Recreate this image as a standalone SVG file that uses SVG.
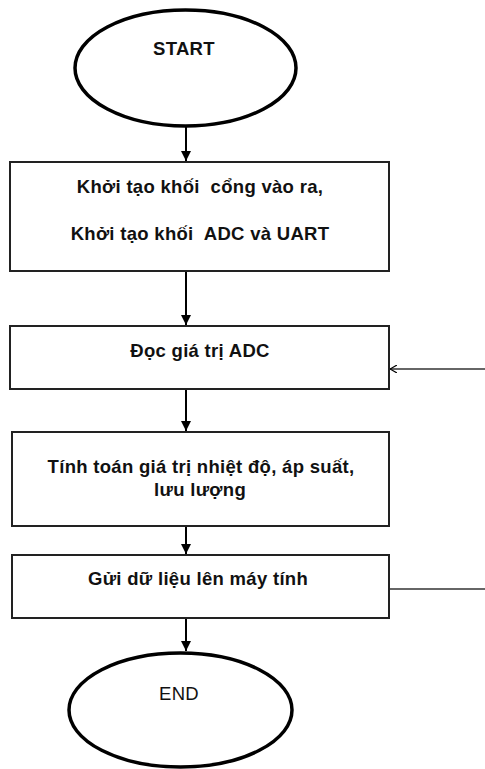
<svg xmlns="http://www.w3.org/2000/svg" width="485" height="769" viewBox="0 0 485 769">
<style>
.term{fill:#fff;stroke:#000;stroke-width:3.5}
.box{fill:#fff;stroke:#222;stroke-width:2}
.t{font-family:"Liberation Sans",Arial,sans-serif;font-weight:bold;font-size:18.5px;fill:#111;text-anchor:middle;white-space:pre;letter-spacing:0.3px}
.flow{stroke:#000;stroke-width:2;fill:none}
.fb{stroke:#333;stroke-width:1.5;fill:none}
</style>
<defs>
<marker id="ah" markerWidth="10" markerHeight="12" refX="10" refY="6" orient="auto" markerUnits="userSpaceOnUse">
<path d="M0,1 L10,6 L0,11 Z" fill="#000"/>
</marker>
<marker id="oh" markerWidth="8" markerHeight="8" refX="7" refY="4" orient="auto" markerUnits="userSpaceOnUse">
<path d="M0,0 L7,4 L0,8" fill="none" stroke="#000" stroke-width="1.2"/>
</marker>
</defs>
<rect width="485" height="769" fill="#fff"/>
<g id="connectors">
<line class="flow" x1="186" y1="127" x2="186" y2="161" marker-end="url(#ah)"/>
<line class="flow" x1="186" y1="271" x2="186" y2="325" marker-end="url(#ah)"/>
<line class="flow" x1="186" y1="389" x2="186" y2="431" marker-end="url(#ah)"/>
<line class="flow" x1="186" y1="526" x2="186" y2="554" marker-end="url(#ah)"/>
<line class="flow" x1="186" y1="618" x2="186" y2="651" marker-end="url(#ah)"/>
<line class="fb" x1="485" y1="369" x2="390" y2="369" marker-end="url(#oh)"/>
<line class="fb" x1="389" y1="589" x2="485" y2="589"/>
</g>
<g id="start">
<ellipse class="term" cx="185.5" cy="68" rx="110.5" ry="58"/>
<text class="t" x="184" y="55">START</text>
</g>
<g id="init">
<rect class="box" x="10" y="162" width="379" height="109"/>
<text class="t" x="200" y="193" xml:space="preserve">Khởi tạo khối  cổng vào ra,</text>
<text class="t" x="200" y="240" xml:space="preserve">Khởi tạo khối  ADC và UART</text>
</g>
<g id="read">
<rect class="box" x="10" y="326" width="379" height="63"/>
<text class="t" x="200" y="357">Đọc giá trị ADC</text>
</g>
<g id="calc">
<rect class="box" x="12" y="432" width="377" height="94"/>
<text class="t" x="201" y="473">Tính toán giá trị nhiệt độ, áp suất,</text>
<text class="t" x="200" y="496">lưu lượng</text>
</g>
<g id="send">
<rect class="box" x="12" y="555" width="377" height="63"/>
<text class="t" x="198" y="585">Gửi dữ liệu lên máy tính</text>
</g>
<g id="end">
<ellipse class="term" cx="180.5" cy="710" rx="111.5" ry="57"/>
<text class="t" x="179" y="700" style="font-weight:normal">END</text>
</g>
</svg>
